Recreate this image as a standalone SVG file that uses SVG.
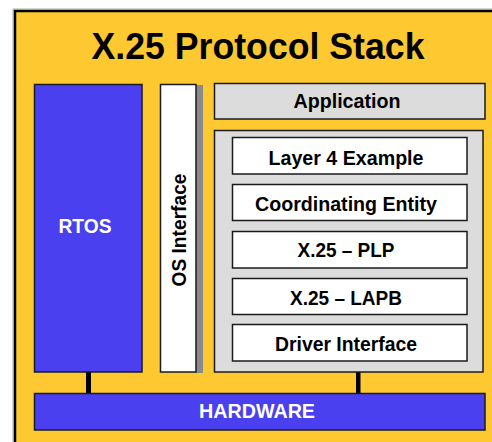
<svg xmlns="http://www.w3.org/2000/svg" width="492" height="442" viewBox="0 0 492 442">
<style>
.lbl{font-family:"Liberation Sans",Arial,sans-serif;font-weight:bold;font-size:21px;text-anchor:middle;fill:#000}
.wl{fill:#fff}
.box{stroke:#1a1a1a;stroke-width:1.5}
.blue{fill:#4A40F0}
.gray{fill:#DCDCDC}
.white{fill:#fff}
</style>
<rect x="0" y="0" width="492" height="442" fill="#fff"/>
<rect x="13" y="9" width="500" height="460" fill="none" stroke="#b0b0b0" stroke-width="1"/>
<rect x="15" y="11" width="500" height="460" fill="#FEC930" stroke="#000" stroke-width="2.5"/>
<text x="258" y="59" style="font-family:'Liberation Sans',Arial,sans-serif;font-weight:bold;font-size:36px;text-anchor:middle" textLength="333" lengthAdjust="spacingAndGlyphs">X.25 Protocol Stack</text>
<g id="connectors">
<rect x="86" y="372" width="5" height="21" fill="#000"/>
<rect x="356" y="372" width="4.5" height="21" fill="#000"/>
</g>
<g id="rtos">
<rect class="box blue" x="34.5" y="84.5" width="107.5" height="287.5"/>
<text class="lbl wl" x="85" y="233" textLength="53" lengthAdjust="spacingAndGlyphs">RTOS</text>
</g>
<g id="os-interface">
<rect x="196" y="85" width="7" height="288" fill="#8a8a8a"/>
<rect class="box white" x="160.5" y="84.5" width="35.5" height="287.5"/>
<text class="lbl" transform="translate(186,230) rotate(-90)" textLength="113" lengthAdjust="spacingAndGlyphs">OS Interface</text>
</g>
<g id="application">
<rect class="box gray" x="214.5" y="83.5" width="270.5" height="35.5"/>
<text class="lbl" x="347" y="108" textLength="107" lengthAdjust="spacingAndGlyphs">Application</text>
</g>
<g id="stack-container">
<rect class="box gray" x="214.5" y="130.5" width="268.5" height="241.5"/>
</g>
<g id="layer4">
<rect class="box white" x="232.5" y="137.5" width="234.5" height="36.5"/>
<text class="lbl" x="346" y="165" textLength="155" lengthAdjust="spacingAndGlyphs">Layer 4 Example</text>
</g>
<g id="coordinating">
<rect class="box white" x="232.5" y="184.5" width="234.5" height="36"/>
<text class="lbl" x="346" y="211" textLength="182" lengthAdjust="spacingAndGlyphs">Coordinating Entity</text>
</g>
<g id="plp">
<rect class="box white" x="232.5" y="231.5" width="234.5" height="36.5"/>
<text class="lbl" x="346" y="257" textLength="97" lengthAdjust="spacingAndGlyphs">X.25 – PLP</text>
</g>
<g id="lapb">
<rect class="box white" x="232.5" y="278.5" width="234.5" height="36"/>
<text class="lbl" x="346" y="305" textLength="112" lengthAdjust="spacingAndGlyphs">X.25 – LAPB</text>
</g>
<g id="driver">
<rect class="box white" x="232.5" y="324.5" width="234.5" height="36.5"/>
<text class="lbl" x="346" y="351" textLength="142" lengthAdjust="spacingAndGlyphs">Driver Interface</text>
</g>
<g id="hardware">
<rect class="box blue" x="34.5" y="393.5" width="450.5" height="36.5"/>
<text class="lbl wl" x="257" y="418" textLength="116" lengthAdjust="spacingAndGlyphs">HARDWARE</text>
</g>
</svg>
